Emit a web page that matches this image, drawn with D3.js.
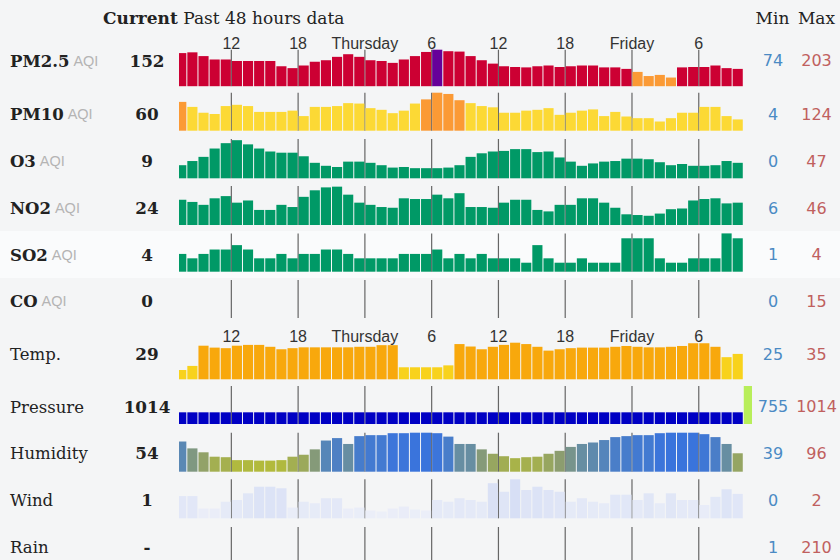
<!DOCTYPE html>
<html><head><meta charset="utf-8">
<script src="https://cdn.jsdelivr.net/npm/d3@7"></script>
<style>html,body{margin:0;padding:0;background:#f4f5f6;} svg{display:block}</style>
</head><body><svg id="c" width="840" height="560"></svg>
<script>
// ---------- DATA ----------
const hours = [
 "Wed 07","Wed 08","Wed 09","Wed 10","Wed 11","Wed 12","Wed 13","Wed 14","Wed 15","Wed 16","Wed 17","Wed 18","Wed 19","Wed 20","Wed 21","Wed 22","Wed 23",
 "Thu 00","Thu 01","Thu 02","Thu 03","Thu 04","Thu 05","Thu 06","Thu 07","Thu 08","Thu 09","Thu 10","Thu 11","Thu 12","Thu 13","Thu 14","Thu 15","Thu 16","Thu 17","Thu 18","Thu 19","Thu 20","Thu 21","Thu 22","Thu 23",
 "Fri 00","Fri 01","Fri 02","Fri 03","Fri 04","Fri 05","Fri 06","Fri 07","Fri 08","Fri 09","Fri 10"];
const tickHours  = ["Wed 12","Wed 18","Thu 00","Thu 06","Thu 12","Thu 18","Fri 00","Fri 06"];
const tickLabels = ["12","18","Thursday","6","12","18","Friday","6"];

const rowNames   = ["PM2.5","PM10","O3","NO2","SO2","CO","Temp.","Pressure","Humidity","Wind","Rain"];
const rowUnits   = ["AQI","AQI","AQI","AQI","AQI","AQI","","","","",""];
const currentValues = ["152","60","9","24","4","0","29","1014","54","1","-"];
const minValues  = [74,4,0,6,1,0,25,755,39,0,1];
const maxValues  = [203,124,47,46,4,15,35,1014,96,2,210];

const pm25 = [194,196,186,177,177,173,173,173,173,159,154,161,171,175,184,191,184,
  175,173,168,177,186,197,203,199,198,186,175,166,159,157,156,159,161,157,159,161,161,156,156,152,
  144,133,136,129,156,157,157,161,154,152];
const pm10 = [102,90,76,73,92,95,92,78,78,78,81,68,90,90,92,99,98,
  87,83,75,81,98,108,124,121,106,99,92,89,76,76,81,83,87,71,76,81,84,68,78,67,
  63,63,55,63,76,76,90,90,68,60];
const o3 = [5,12,19,33,42,47,40,33,28,26,26,20,9,4,2,11,11,
  9,5,1,2,0,0,0,1,5,19,25,28,29,32,32,27,28,18,11,4,8,11,12,16,
  16,15,10,5,7,4,4,5,12,9];
const no2 = [28,25,21,30,33,24,27,14,14,21,18,32,41,45,46,35,24,
  21,18,17,30,29,29,35,30,37,18,18,17,24,28,28,14,12,21,21,30,30,24,17,8,
  7,6,9,15,16,27,29,30,23,24];
const so2 = [1.9,1.45,1.9,2.35,2.35,2.8,2.35,1.45,1.45,1.9,1.45,1.9,1.9,2.35,2.35,1.9,1.45,
  1.45,1.45,1.45,1.9,1.9,1.9,2.35,1.45,1.9,1.45,1.9,1.45,1.45,1.45,1,2.8,1.45,1,1,1.45,1,1,1,3.5,
  3.5,3.5,1.45,1,1,1.45,1.45,1.45,4,3.5];
const co = [0,0,0,0,0,0,0,0,0,0,0,0,0,0,0,0,0,
  0,0,0,0,0,0,0,0,0,0,0,0,0,0,0,0,0,0,0,0,0,0,0,0,
  0,0,0,0,0,0,0,0,0,0];
const temp = [25.0,26.5,33.9,33.2,33.0,33.9,34.2,34.2,33.5,32.6,33.0,33.3,33.3,33.3,33.3,33.3,33.5,
  33.5,34.1,34.1,26.0,26.0,26.0,26.0,26.7,34.5,33.6,32.6,33.5,34.2,35.0,34.5,33.5,32.1,32.6,33.0,33.2,33.2,33.2,33.5,33.8,
  33.5,33.3,33.3,33.5,33.8,34.8,34.8,33.5,29.7,30.9];
const pressure = [755,755,755,755,755,755,755,755,755,755,755,755,755,755,755,755,755,
  755,755,755,755,755,755,755,755,755,755,755,755,755,755,755,755,755,755,755,755,755,755,755,755,
  755,755,755,755,755,755,755,755,755,755,1014];
const humidity = [78,64,56,47,46,40,40,39,39,40,47,51,62,80,85,73,89,
  91,91,95,95,96,96,95,88,73,73,62,53,48,44,46,47,53,59,67,73,76,81,87,89,
  91,91,95,96,96,96,93,87,73,54];
const wind = [1.14,1.14,0.5,0.5,0.85,0.94,1.28,1.62,1.62,1.54,0.55,0.85,0.77,1.03,1.03,0.5,0.55,
  0.4,0.35,0.5,0.6,0.45,0.4,0.94,0.85,1.03,0.94,0.85,1.8,1.36,2.0,1.45,1.62,1.45,1.36,0.85,1.03,0.85,0.77,1.21,1.21,
  0.94,1.28,0.77,1.28,0.94,0.94,0.68,1.1,1.49,1.25];
const rain = [];

// ---------- COLOURS ----------
function aqiColor(v){
  if (v <= 50) return "#009966";
  if (v <= 100) return "#fcd935";
  if (v <= 150) return "#fb9a35";
  if (v <= 200) return "#cc0033";
  return "#660099";
}
const tempColor = v => v < 31.5 ? "#f8d21c" : "#f8a80c";
const pressColor = v => v < 1000 ? "#0000c4" : "#b8ee5a";
const humColor = d3.scaleLinear().domain([39,60,78,96])
  .range(["#b2ba3c","#8a9c72","#5a88b4","#3a74dc"]);
const windColor = d3.scaleLinear().domain([0,2]).range(["#f0f2f9","#d7dff5"]);

// ---------- ROWS ----------
const rows = [
  {data: pm25,     dom:[106,203],   base:86.2,  h:36.5, color:aqiColor,  lines:true,  ly:60.5},
  {data: pm10,     dom:[33,124],    base:130.7, h:38,   color:aqiColor,  lines:true,  ly:114},
  {data: o3,       dom:[-17,49],    base:178.3, h:39.3, color:aqiColor,  lines:true,  ly:161},
  {data: no2,      dom:[-6.7,46.9], base:225,   h:39,   color:aqiColor,  lines:true,  ly:208},
  {data: so2,      dom:[0.08,4],    base:271.7, h:38.3, color:aqiColor,  lines:true,  ly:254.5},
  {data: co,       dom:[0,15],      base:318,   h:38,   color:aqiColor,  lines:true,  ly:301},
  {data: temp,     dom:[21.6,35],   base:379.3, h:36.6, color:tempColor, lines:false, ly:354},
  {data: pressure, dom:[640,1014],  base:424,   h:38,   color:pressColor,lines:true,  ly:406.5},
  {data: humidity, dom:[16.4,96],   base:471.7, h:39,   color:humColor,  lines:true,  ly:453},
  {data: wind,     dom:[0,2],       base:518.3, h:39,   color:windColor, lines:true,  ly:500},
  {data: rain,     dom:[0,210],     base:566,   h:39,   color:()=>"#ccc",lines:true,  ly:547}
];

const svg = d3.select("#c");
svg.append("rect").attr("width",840).attr("height",560).attr("fill","#f4f5f6");
svg.append("rect").attr("x",0).attr("y",231).attr("width",840).attr("height",47).attr("fill","#fafbfc");

const x = d3.scaleBand().domain(hours).range([176.2, 753.9]).paddingInner(0.09).paddingOuter(0);
const gapHalf = x.step()*0.09/2;
const tickX = h => x(h) - gapHalf;

svg.append("defs").append("clipPath").attr("id","clip")
  .append("rect").attr("x",179).attr("y",0).attr("width",573).attr("height",560);

// header
const hdr = svg.append("text").attr("x",103).attr("y",18).attr("dominant-baseline","central")
  .attr("font-family","DejaVu Serif").attr("font-size",17).attr("fill","#222");
hdr.append("tspan").attr("font-weight","bold").text("Current");
hdr.append("tspan").text(" Past 48 hours data");
svg.append("text").attr("x",772.5).attr("y",18).attr("text-anchor","middle").attr("dominant-baseline","central")
  .attr("font-family","DejaVu Serif").attr("font-size",17).attr("fill","#222").text("Min");
svg.append("text").attr("x",816.5).attr("y",18).attr("text-anchor","middle").attr("dominant-baseline","central")
  .attr("font-family","DejaVu Serif").attr("font-size",17).attr("fill","#222").text("Max");

// tick labels rows
[43.5, 336.7].forEach(yy => {
  svg.append("g").selectAll("text").data(tickHours).join("text")
    .attr("x", d => tickX(d)).attr("y", yy)
    .attr("text-anchor","middle").attr("dominant-baseline","central")
    .attr("font-family","Liberation Sans").attr("font-size",16).attr("fill","#333")
    .text((d,i) => tickLabels[i]);
});

rows.forEach((r, ri) => {
  const y = d3.scaleLinear().domain(r.dom).range([r.base, r.base - r.h]);
  const g = svg.append("g").attr("clip-path","url(#clip)");
  if (r.lines) {
    g.selectAll("line.t").data(tickHours).join("line").attr("class","t")
      .attr("x1", d => tickX(d)).attr("x2", d => tickX(d))
      .attr("y1", r.base - r.h).attr("y2", r.base)
      .attr("stroke","#666").attr("stroke-width",1.2);
  }
  g.selectAll("rect.b").data(r.data).join("rect").attr("class","b")
    .attr("x", (d,i) => x(hours[i]))
    .attr("width", x.bandwidth())
    .attr("y", d => Math.min(y(d), r.base))
    .attr("height", d => Math.max(0, r.base - y(d)))
    .attr("fill", d => r.color(d));

  // left label
  const t = svg.append("text").attr("x",10).attr("y",r.ly).attr("dominant-baseline","central")
    .attr("font-family","DejaVu Serif").attr("font-size",16.5).attr("fill","#222");
  t.append("tspan").attr("font-weight", ri < 6 ? "bold" : "normal").text(rowNames[ri]);
  if (rowUnits[ri]) {
    t.append("tspan").attr("font-family","Liberation Sans").attr("font-size",14.5)
      .attr("fill","#b4b4b4").attr("dx",4).text(rowUnits[ri]);
  }
  svg.append("text").attr("x",147).attr("y",r.ly).attr("text-anchor","middle").attr("dominant-baseline","central")
    .attr("font-family","DejaVu Serif").attr("font-weight","bold").attr("font-size",16.8).attr("fill","#222")
    .text(currentValues[ri]);
  svg.append("text").attr("x",773).attr("y",r.ly).attr("text-anchor","middle").attr("dominant-baseline","central")
    .attr("font-family","DejaVu Sans").attr("font-size",16).attr("fill","#4a8ac4")
    .text(minValues[ri]);
  svg.append("text").attr("x",816.5).attr("y",r.ly).attr("text-anchor","middle").attr("dominant-baseline","central")
    .attr("font-family","DejaVu Sans").attr("font-size",16).attr("fill","#c0605e")
    .text(maxValues[ri]);
});
</script></body></html>
